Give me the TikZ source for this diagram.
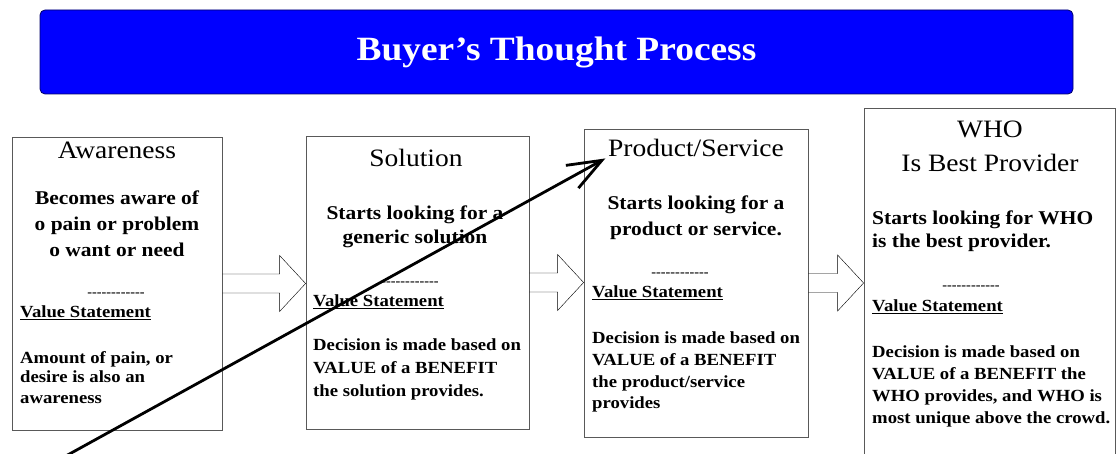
\documentclass[tikz,border=0pt]{standalone}
\usepackage{fontspec}
\setmainfont[FakeStretch=1.1]{Liberation Serif}
\usetikzlibrary{arrows.meta,calc,positioning}

\newcommand\sepdashes{-{}-{}-{}-{}-{}-{}-{}-{}-{}-{}-{}-{}}

\tikzset{
  titlebar/.style={draw=blue!40!black, fill=blue, rounded corners=5pt, line width=0.8pt,
    minimum width=1033pt, minimum height=84pt, text=white,
    font=\fontsize{34}{40}\selectfont\bfseries},
  stagebox/.style={draw=black!65, line width=0.8pt, fill=white, inner sep=0pt},
  heading/.style={font=\fontsize{25}{34}\selectfont, inner sep=0pt, align=center, anchor=base},
  lead/.style={font=\fontsize{19.5}{25}\selectfont\bfseries, inner sep=0pt, anchor=base},
  valhead/.style={font=\fontsize{17}{22}\selectfont\bfseries, inner sep=0pt, anchor=base west},
  detail/.style={font=\fontsize{17}{22}\selectfont\bfseries, inner sep=0pt, align=left, anchor=base west},
  sep/.style={font=\fontsize{13}{13}\selectfont\bfseries, inner sep=0pt},
  blockarr/.style={draw=black!60, line width=0.7pt, to path={
    let \p1=(\tikztostart), \p2=(\tikztotarget) in
    (\x1,\y1+9.5pt) -- (\x2-26pt,\y1+9.5pt) -- (\x2-26pt,\y1+28pt)
    -- (\x2,\y1) -- (\x2-26pt,\y1-28pt) -- (\x2-26pt,\y1-9.5pt) -- (\x1,\y1-9.5pt)}},
  pen/.style={line width=2.8pt, -{Straight Barb[length=34pt,width=26pt]}, shorten >=3pt}
}

\begin{document}
\begin{tikzpicture}[x=1pt,y=-1pt]
  \useasboundingbox (0,0) rectangle (1117,454);

  \node[titlebar] (title) at (556.5,52) {Buyer’s Thought Process};

  % the four stages
  \node[stagebox, minimum width=210pt, minimum height=293pt] (b1) at (117,283.5) {};
  \node[stagebox, minimum width=223pt, minimum height=293pt] (b2) at (417.5,282.5) {};
  \node[stagebox, minimum width=224pt, minimum height=308pt] (b3) at (696,283) {};
  \node[stagebox, minimum width=251pt, minimum height=362pt] (b4) at (989.5,289) {};

  \draw (b1.east) to[blockarr] (b2.west);
  \draw (b2.east) to[blockarr] (b3.west);
  \draw (b3.east) to[blockarr] (b4.west);

  % Awareness (multi-line nodes sit on their last baseline)
  \node[heading] (h1) at (117,159) {Awareness};
  \node[lead, align=center, font=\fontsize{19.5}{26}\selectfont\bfseries] (l1) at (117,257)
    {Becomes aware of\\o pain or problem\\o want or need};
  \node[sep] (s1) at (116,295) {\sepdashes};
  \node[valhead] (v1) at (20,318) {\underline{Value Statement}};
  \node[detail, font=\fontsize{17}{20}\selectfont\bfseries] (d1) at (20,403)
    {Amount of pain, or\\desire is also an\\awareness};

  % Solution
  \node[heading] (h2) at (416,167) {Solution};
  \node[lead, align=center, font=\fontsize{19.5}{24}\selectfont\bfseries] (l2) at (415,244)
    {Starts looking for a\\generic solution};
  \node[sep] (s2) at (410,284) {\sepdashes};
  \node[valhead] (v2) at (313,307) {\underline{Value Statement}};
  \node[detail, font=\fontsize{17}{23}\selectfont\bfseries] (d2) at (313,396)
    {Decision is made based on\\VALUE of a BENEFIT\\the solution provides.};

  % Product/Service
  \node[heading] (h3) at (696,157) {Product/Service};
  \node[lead, align=center, font=\fontsize{19.5}{26}\selectfont\bfseries] (l3) at (696,236)
    {Starts looking for a\\product or service.};
  \node[sep] (s3) at (680,275) {\sepdashes};
  \node[valhead] (v3) at (592,298) {\underline{Value Statement}};
  \node[detail] (d3) at (592,409)
    {Decision is made based on\\VALUE of a BENEFIT\\the product/service\\provides};

  % WHO
  \node[heading] (h4) at (990,172) {WHO\\Is Best Provider};
  \node[lead, align=left, anchor=base west, font=\fontsize{19.5}{23}\selectfont\bfseries] (l4) at (872,248)
    {Starts looking for WHO\\is the best provider.};
  \node[sep] (s4) at (971,288) {\sepdashes};
  \node[valhead] (v4) at (872,312) {\underline{Value Statement}};
  \node[detail] (d4) at (872,423)
    {Decision is made based on\\VALUE of a BENEFIT the\\WHO provides, and WHO is\\most unique above the crowd.};

  % hand drawn pointer
  \coordinate (pen0) at (64,457);
  \draw[pen] (pen0) -- (h3.base west);
\end{tikzpicture}
\end{document}
